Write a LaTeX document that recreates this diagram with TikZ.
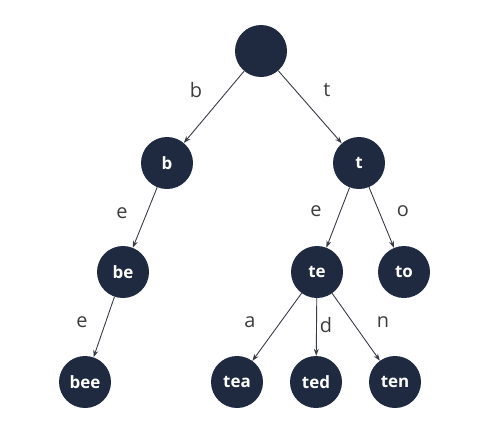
\documentclass[tikz,border=0pt]{standalone}
\usepackage{fontspec}
\setmainfont{Open Sans}
\usetikzlibrary{arrows.meta, positioning}
\definecolor{nodenavy}{RGB}{31,42,64}
\definecolor{edgegray}{RGB}{55,60,70}
\definecolor{labelgray}{RGB}{60,60,60}

\begin{document}
\begin{tikzpicture}[
        x=1bp, y=-1bp,
        trie/.style={circle, fill=nodenavy, draw=none, minimum size=52bp, inner sep=0pt,
                     font=\fontsize{17}{17}\selectfont\bfseries, text=white},
        link/.style={-{Stealth[length=7bp, width=5bp]}, color=edgegray, line width=0.9bp},
        letter/.style={font=\fontsize{20}{20}\selectfont, text=labelgray}
    ]
        \useasboundingbox (0,0) rectangle (495,422);
        % Place nodes with explicit coordinates
        \node [trie] (root) at (261,51) {};
        \node [trie] (b) at (167,163) {b};
        \node [trie] (t) at (359,163) {t};
        \node [trie] (be) at (123,272) {be};
        \node [trie] (te) at (317,272) {te};
        \node [trie] (to) at (404,272) {to};
        \node [trie] (bee) at (85,382) {bee};
        \node [trie] (tea) at (237,382) {tea};
        \node [trie] (ted) at (316,382) {ted};
        \node [trie] (ten) at (395,382) {ten};

        % Edges
        \draw[link] (root) -- (b);
        \draw[link] (root) -- (t);
        \draw[link] (b) -- (be);
        \draw[link] (be) -- (bee);
        \draw[link] (t) -- (te);
        \draw[link] (t) -- (to);
        \draw[link] (te) -- (tea);
        \draw[link] (te) -- (ted);
        \draw[link] (te) -- (ten);

        % Edge letters
        \node [letter] (lb) at (196,90) {b};
        \node [letter] (lt) at (327,90) {t};
        \node [letter] (lbe) at (122,213) {e};
        \node [letter] (lte) at (316,211) {e};
        \node [letter] (lto) at (403,211) {o};
        \node [letter] (lbee) at (82,322) {e};
        \node [letter] (ltea) at (250,322) {a};
        \node [letter] (lted) at (326,325) {d};
        \node [letter] (lten) at (383,322) {n};
    \end{tikzpicture}
\end{document}
